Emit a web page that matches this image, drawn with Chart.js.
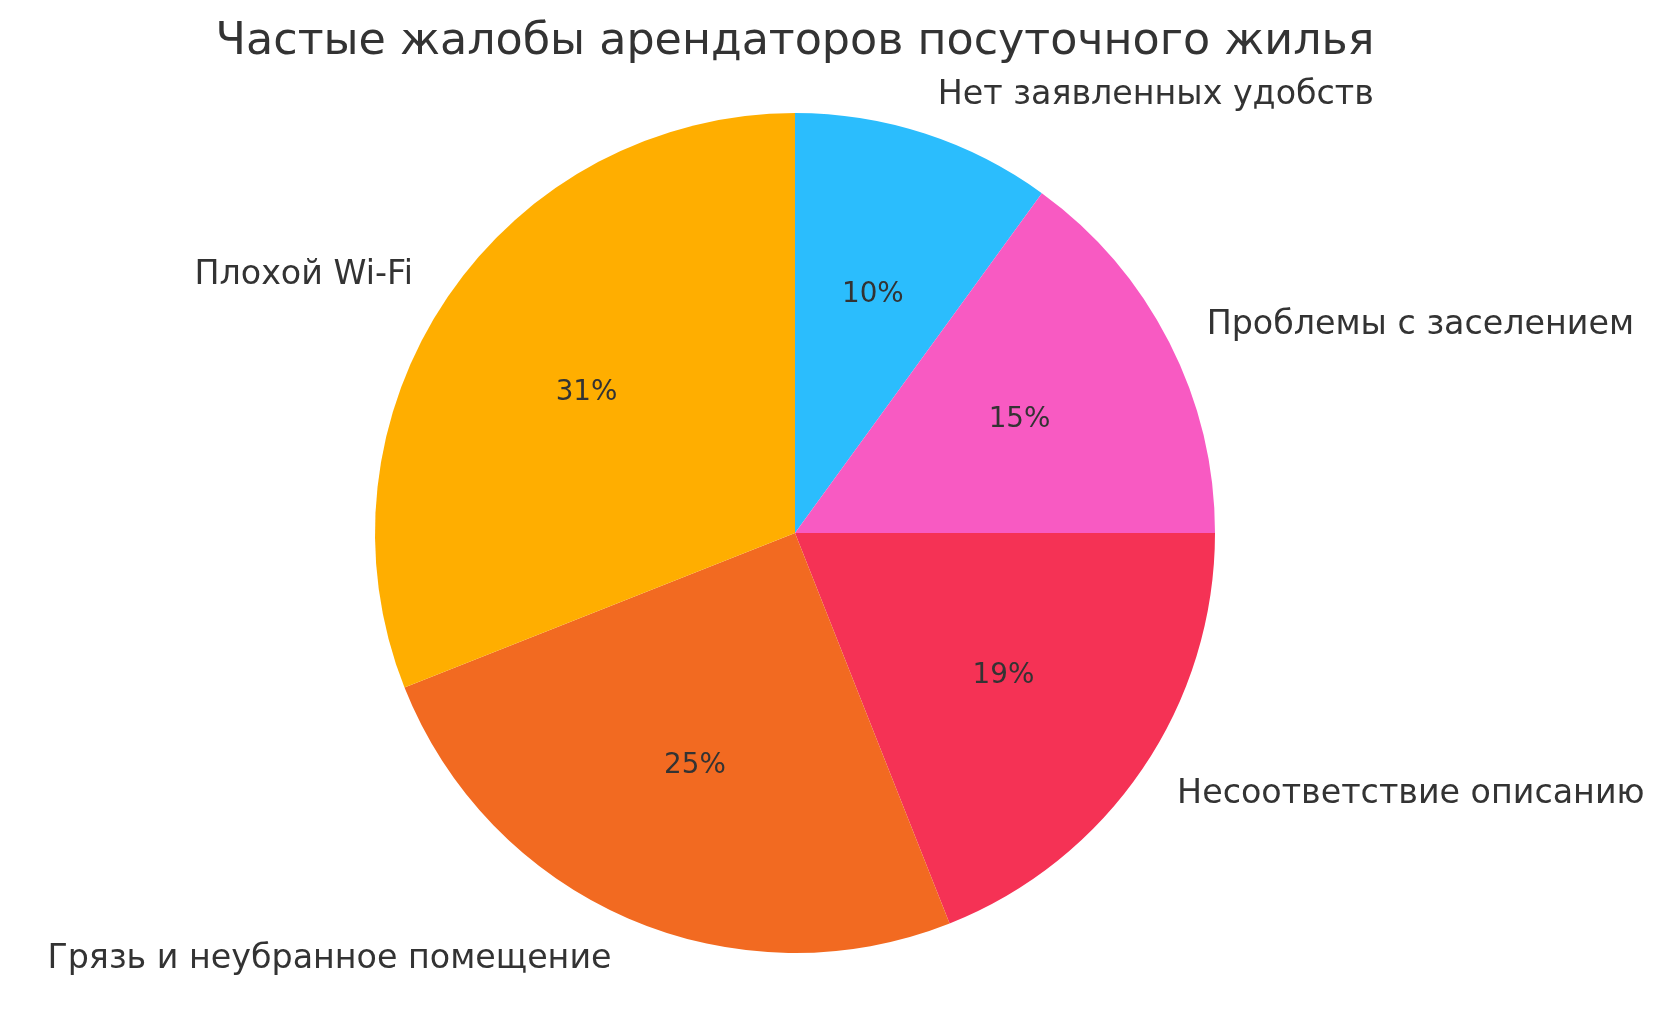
<!DOCTYPE html>
<html>
<head>
<meta charset="utf-8">
<script src="https://cdn.jsdelivr.net/npm/chart.js@4"></script>
<style>
  body { margin: 0; background: #fff; }
  #wrap { width: 1665px; height: 1015px; }
</style>
</head>
<body>
<div id="wrap"><canvas id="myChart"></canvas></div>
<script>
// order is clockwise from the top, as Chart.js draws it
const labels = ["Нет заявленных удобств", "Проблемы с заселением", "Несоответствие описанию", "Грязь и неубранное помещение", "Плохой Wi-Fi"];
const shares = [10, 15, 19, 25, 31];
const colors = ["#2BBDFD", "#F85AC2", "#F53255", "#F26A21", "#FFAE00"];
const title = "Частые жалобы арендаторов посуточного жилья";

const textColor = "#333333";
const font = "'DejaVu Sans', sans-serif";

const pieText = {
  id: "pieText",
  afterDraw(chart) {
    const c = chart.ctx;
    const total = shares.reduce((a, b) => a + b, 0);
    let cx = 0;
    c.save();
    c.fillStyle = textColor;
    chart.getDatasetMeta(0).data.forEach((arc, i) => {
      const p = arc.getProps(["x", "y", "startAngle", "endAngle", "outerRadius"], true);
      cx = p.x;
      const mid = (p.startAngle + p.endAngle) / 2;
      const cos = Math.cos(mid), sin = Math.sin(mid);
      // percent inside
      c.font = "27.8px " + font;
      c.textAlign = "center";
      c.textBaseline = "middle";
      c.fillText(Math.round(shares[i] / total * 100) + "%", p.x + cos * p.outerRadius * 0.6, p.y + sin * p.outerRadius * 0.6 + 1);
      // category outside
      c.font = "33.3px " + font;
      c.textAlign = cos >= 0 ? "left" : "right";
      c.fillText(labels[i], p.x + cos * p.outerRadius * 1.1, p.y + sin * p.outerRadius * 1.1 + 2);
    });
    c.font = "44.4px " + font;
    c.textAlign = "center";
    c.textBaseline = "middle";
    c.fillText(title, cx, 42);
    c.restore();
  }
};

const ctx = document.getElementById("myChart").getContext("2d");
const myChart = new Chart(ctx, {
  type: "pie",
  data: {
    labels: labels,
    datasets: [
      {
        data: shares,
        backgroundColor: colors,
        borderWidth: 0,
      },
    ],
  },
  options: {
    responsive: true,
    maintainAspectRatio: false,
    animation: false,
    layout: {
      padding: { left: 375, right: 450, top: 113, bottom: 62 },
    },
    plugins: {
      legend: { display: false },
      tooltip: { enabled: false },
    },
  },
  plugins: [pieText],
});
</script>
</body>
</html>
